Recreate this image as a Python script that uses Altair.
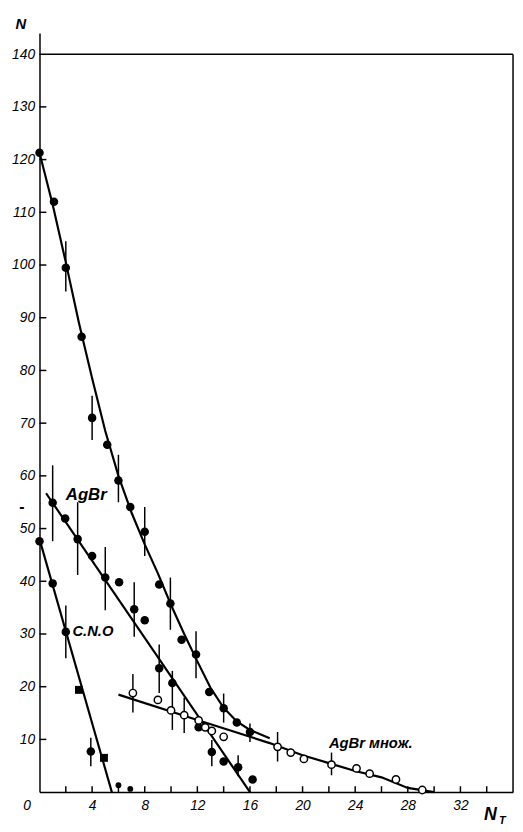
import altair as alt
import pandas as pd

# ---- data ----
# all particles (filled circles)
tot_x = [0, 1.1, 2.0, 3.2, 4.0, 5.15, 6.0, 6.9, 8.0, 9.1, 9.95, 10.8, 11.9, 12.9, 14.0, 15.0, 16.0]
tot_y = [121.3, 112, 99.5, 86.4, 71, 65.9, 59.1, 54.1, 49.4, 39.4, 35.8, 28.9, 26.1, 19.0, 15.9, 13.2, 11.4]
tot_err_x = [2.0, 4.0, 6.0, 8.0, 9.95, 11.9, 14.0, 16.0]
tot_err_lo = [95, 66.8, 55, 44.8, 30.8, 21.6, 13.2, 9.5]
tot_err_hi = [104.5, 75.2, 64, 54.1, 40.7, 30.5, 18.7, 13]
tot_fit_x = [0, 1, 2, 3, 4, 5, 6, 7, 8, 9, 10, 11, 12, 13, 14, 15, 16, 17.5]
tot_fit_y = [121.3, 111.5, 100.5, 89, 78.5, 68.5, 60, 53, 47, 41.5, 35.5, 30, 24.8, 19.8, 16, 13.4, 11.8, 10.2]

# AgBr (filled circles)
agbr_x = [1.0, 1.95, 2.9, 4.0, 5.0, 6.05, 7.2, 8.0, 9.1, 10.1, 12.1, 13.1, 14.0, 15.1, 16.2]
agbr_y = [54.9, 51.9, 48.0, 44.8, 40.7, 39.8, 34.7, 32.6, 23.5, 20.7, 12.3, 7.6, 5.8, 4.7, 2.4]
agbr_err_x = [1.0, 2.9, 5.0, 7.2, 9.1, 10.1, 13.1, 15.1]
agbr_err_lo = [47.6, 41.2, 34.5, 29.5, 18.8, 11.8, 4.9, 3.0]
agbr_err_hi = [62, 55, 46.5, 39.8, 28, 23, 9.9, 7.0]
agbr_fit_x = [0.5, 16.0]
agbr_fit_y = [56.7, 0]

# C.N.O
cno_circle_x = [0, 1.0, 2.0, 3.9]
cno_circle_y = [47.6, 39.6, 30.4, 7.7]
cno_square_x = [3.0, 4.9]
cno_square_y = [19.4, 6.5]
cno_small_x = [6.0, 6.9]
cno_small_y = [1.3, 0.6]
cno_err_x = [2.0, 3.9]
cno_err_lo = [25.4, 4.9]
cno_err_hi = [35.4, 10.3]
cno_fit_x = [0, 5.5]
cno_fit_y = [48, 0]

# AgBr множ. (open circles)
mn_x = [7.1, 9.0, 10.0, 11.0, 12.1, 12.6, 13.1, 14.0, 18.1, 19.1, 20.1, 22.2, 24.1, 25.1, 27.1, 29.1]
mn_y = [18.8, 17.5, 15.5, 14.6, 13.6, 12.3, 11.6, 10.5, 8.6, 7.5, 6.3, 5.2, 4.5, 3.5, 2.4, 0.4]
mn_err_x = [7.1, 11.0, 18.1, 22.2]
mn_err_lo = [15.1, 11.2, 5.8, 3.2]
mn_err_hi = [22.4, 17.9, 11.4, 7.5]
mn_fit_x = [6.0, 12, 17.5, 20, 22, 24, 26, 28, 30]
mn_fit_y = [18.5, 13.7, 9.3, 7.0, 5.5, 4.0, 2.8, 0.8, 0]

# axis ticks / labels
x_label_vals = [0, 4, 8, 12, 16, 20, 24, 28, 32]
x_tick_vals = [2, 4, 6, 8, 10, 12, 14, 16, 18, 20, 22, 24, 26, 28, 30, 32, 34]
y_label_vals = [10, 20, 30, 40, 50, 60, 70, 80, 90, 100, 110, 120, 130, 140]
y_tick_vals = [10, 20, 30, 40, 50, 60, 70, 80, 90, 100, 110, 120, 130]

ann_text = ["AgBr", "C.N.O", "AgBr множ."]
ann_x = [2.0, 2.5, 22.0]
ann_y = [56.4, 30.6, 9.3]
ann_size = [17, 15, 15]

# ---- build tables ----
fits = pd.concat([
    pd.DataFrame({"x": tot_fit_x, "y": tot_fit_y, "s": "tot"}),
    pd.DataFrame({"x": agbr_fit_x, "y": agbr_fit_y, "s": "agbr"}),
    pd.DataFrame({"x": cno_fit_x, "y": cno_fit_y, "s": "cno"}),
    pd.DataFrame({"x": mn_fit_x, "y": mn_fit_y, "s": "mn"}),
])
errs = pd.concat([
    pd.DataFrame({"x": tot_err_x, "lo": tot_err_lo, "hi": tot_err_hi}),
    pd.DataFrame({"x": agbr_err_x, "lo": agbr_err_lo, "hi": agbr_err_hi}),
    pd.DataFrame({"x": cno_err_x, "lo": cno_err_lo, "hi": cno_err_hi}),
    pd.DataFrame({"x": mn_err_x, "lo": mn_err_lo, "hi": mn_err_hi}),
])
filled = pd.DataFrame({"x": tot_x + agbr_x + cno_circle_x, "y": tot_y + agbr_y + cno_circle_y})
squares = pd.DataFrame({"x": cno_square_x, "y": cno_square_y})
smalls = pd.DataFrame({"x": cno_small_x, "y": cno_small_y})
opens = pd.DataFrame({"x": mn_x, "y": mn_y})
ann = pd.DataFrame({"t": ann_text, "x": ann_x, "y": ann_y, "fs": ann_size})

W, H = 481, 771
FONT = "Liberation Sans"

xs = alt.Scale(domain=[0, 36], nice=False, zero=False)
ys = alt.Scale(domain=[0, 144], nice=False, zero=False)

X = alt.X("x:Q", scale=xs, title=None,
          axis=alt.Axis(values=x_label_vals, ticks=False, grid=False, labelPadding=7,
                        labelFont=FONT, labelFontStyle="italic", labelFontSize=14,
                        labelColor="black", domainColor="black", domainWidth=1.5,
                        labelOffset={"condition": {"test": "datum.value == 0", "value": -17}, "value": 0}))
Y = alt.Y("y:Q", scale=ys, title=None,
          axis=alt.Axis(values=y_label_vals, ticks=False, grid=False, labelPadding=5,
                        labelFont=FONT, labelFontStyle="italic", labelFontSize=14,
                        labelColor="black", domainColor="black", domainWidth=1.5))

base_axes = alt.Chart(filled).mark_point(opacity=0).encode(x=X, y=Y)

lines = alt.Chart(fits).mark_line(color="black", strokeWidth=2.2).encode(
    x=alt.X("x:Q", scale=xs), y=alt.Y("y:Q", scale=ys), detail="s:N")

errbars = alt.Chart(errs).mark_rule(color="black", strokeWidth=1.5).encode(
    x=alt.X("x:Q", scale=xs), y=alt.Y("lo:Q", scale=ys), y2="hi:Q")

pts_f = alt.Chart(filled).mark_point(shape="circle", filled=True, color="black", size=75, opacity=1).encode(
    x=alt.X("x:Q", scale=xs), y=alt.Y("y:Q", scale=ys))
pts_sq = alt.Chart(squares).mark_point(shape="square", filled=True, color="black", size=65, opacity=1).encode(
    x=alt.X("x:Q", scale=xs), y=alt.Y("y:Q", scale=ys))
pts_sm = alt.Chart(smalls).mark_point(shape="circle", filled=True, color="black", size=35, opacity=1).encode(
    x=alt.X("x:Q", scale=xs), y=alt.Y("y:Q", scale=ys))
pts_o = alt.Chart(opens).mark_point(shape="circle", filled=True, fill="white", stroke="black",
                                    strokeWidth=1.5, size=55, opacity=1).encode(
    x=alt.X("x:Q", scale=xs), y=alt.Y("y:Q", scale=ys))

ytick = alt.Chart(pd.DataFrame({"v": y_tick_vals})).mark_rule(color="black", strokeWidth=1.5).encode(
    y=alt.Y("v:Q", scale=ys), x=alt.value(0), x2=alt.value(7))
xtick = alt.Chart(pd.DataFrame({"v": x_tick_vals})).mark_rule(color="black", strokeWidth=1.5).encode(
    x=alt.X("v:Q", scale=xs), y=alt.value(H), y2=alt.value(H - 6))

frame_top = alt.Chart(pd.DataFrame({"v": [140]})).mark_rule(color="black", strokeWidth=1.5).encode(
    y=alt.Y("v:Q", scale=ys), x=alt.value(0), x2=alt.value(W))
frame_right = alt.Chart(pd.DataFrame({"v": [36], "a": [0], "b": [140]})).mark_rule(color="black", strokeWidth=1.5).encode(
    x=alt.X("v:Q", scale=xs), y=alt.Y("a:Q", scale=ys), y2="b:Q")

texts = alt.Chart(ann).mark_text(align="left", baseline="middle", font=FONT, fontStyle="italic",
                                 fontWeight="bold", color="black").encode(
    x=alt.X("x:Q", scale=xs), y=alt.Y("y:Q", scale=ys), text="t:N",
    size=alt.Size("fs:Q", scale=None, legend=None))

n_top = alt.Chart(pd.DataFrame({"t": ["N"]})).mark_text(font=FONT, fontStyle="italic", fontWeight="bold",
                                                        fontSize=15, color="black").encode(
    text="t:N", x=alt.value(-19), y=alt.value(-9))
n_t = alt.Chart(pd.DataFrame({"t": ["N"]})).mark_text(font=FONT, fontStyle="italic", fontWeight="bold",
                                                      fontSize=18, color="black").encode(
    text="t:N", x=alt.value(458), y=alt.value(794))
n_t_sub = alt.Chart(pd.DataFrame({"t": ["T"]})).mark_text(font=FONT, fontStyle="italic", fontWeight="bold",
                                                          fontSize=11, color="black").encode(
    text="t:N", x=alt.value(470), y=alt.value(800))
dash = alt.Chart(pd.DataFrame({"t": ["-"]})).mark_text(font=FONT, fontWeight="bold",
                                                       fontSize=16, color="black").encode(
    text="t:N", x=alt.value(-18), y=alt.value(481))

chart = alt.layer(
    base_axes, frame_top, frame_right, ytick, xtick, lines, errbars,
    pts_f, pts_sq, pts_sm, pts_o, texts, n_top, n_t, n_t_sub, dash
).properties(
    width=W, height=H,
    autosize=alt.AutoSizeParams(type="none"),
    padding={"left": 32, "top": 19, "right": 2, "bottom": 33},
    background="white",
).configure_view(strokeWidth=0)

chart.save("out.html", embed_options={"renderer": "svg", "actions": False})
